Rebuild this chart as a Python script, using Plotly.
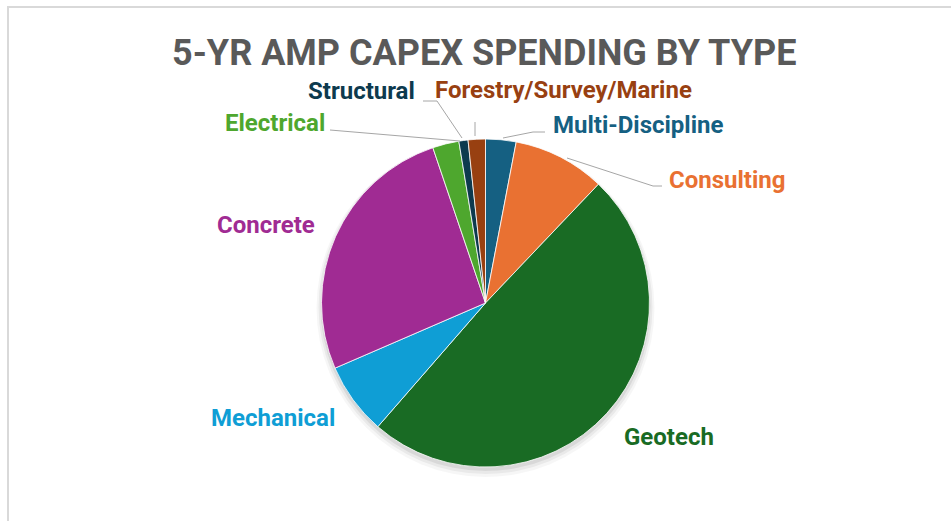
import plotly.graph_objects as go

W, H = 951, 521

# ---- data (clockwise from 12 o'clock) ----
categories = ["Multi-Discipline", "Consulting", "Geotech", "Mechanical",
              "Concrete", "Electrical", "Structural", "Forestry/Survey/Marine"]
values = [3.0, 9.1, 49.3, 7.1, 26.3, 2.6, 0.9, 1.7]
colors = ["#156082", "#E97132", "#196B24", "#0F9ED5",
          "#A02B93", "#4EA72E", "#0D3A4E", "#984011"]

title_text = "5-YR AMP CAPEX SPENDING BY TYPE"

# ---- layout helpers (pixel -> paper) ----
def px(x):
    return x / W

def py(y):
    return 1 - y / H

cx, cy, r = 485.5, 303, 164

fig = go.Figure(go.Pie(
    labels=categories,
    values=values,
    sort=False,
    direction="clockwise",
    rotation=0,
    marker=dict(colors=colors, line=dict(color="white", width=0.8)),
    textinfo="none",
    hoverinfo="label+percent",
    showlegend=False,
    domain=dict(x=[px(cx - r), px(cx + r)], y=[py(cy + r), py(cy - r)]),
))

# label placement (pixel positions, anchor)
label_pos = {
    "Multi-Discipline": (551, 125, "left"),
    "Consulting": (667, 180, "left"),
    "Geotech": (622, 437, "left"),
    "Mechanical": (337, 418, "right"),
    "Concrete": (317, 225, "right"),
    "Electrical": (327, 123, "right"),
    "Structural": (417, 91, "right"),
    "Forestry/Survey/Marine": (433, 90, "left"),
}

annotations = [dict(
    text="<b>" + title_text + "</b>", x=px(484), y=py(53), xref="paper", yref="paper",
    xanchor="center", yanchor="middle", showarrow=False,
    font=dict(family="Roboto", size=36, color="#595959"),
)]
for cat, col in zip(categories, colors):
    x, y, anc = label_pos[cat]
    annotations.append(dict(
        text="<b>" + cat + "</b>", x=px(x), y=py(y), xref="paper", yref="paper",
        xanchor=anc, yanchor="middle", showarrow=False,
        font=dict(family="Roboto", size=24, color=col),
    ))

leader_paths = [
    [(330, 130), (460, 141)],
    [(423, 101), (437, 101), (462, 138)],
    [(475, 122), (475, 136)],
    [(545, 132), (533, 132), (503, 138)],
    [(567, 158), (653, 186), (662, 186)],
]
shapes = []
# soft shadow under the pie
for dr, dy, op in [(5, 5, 0.035), (3, 4, 0.05), (1, 3, 0.07)]:
    shapes.append(dict(type="circle", xref="paper", yref="paper", layer="below",
                       x0=px(cx - r - dr), x1=px(cx + r + dr),
                       y0=py(cy + dy + r + dr), y1=py(cy + dy - r - dr),
                       fillcolor=f"rgba(0,0,0,{op})", line=dict(width=0)))
for pts in leader_paths:
    path = "M " + " L ".join(f"{px(a)},{py(b)}" for a, b in pts)
    shapes.append(dict(type="path", path=path, xref="paper", yref="paper",
                       line=dict(color="#a6a6a6", width=1)))

# frame
shapes.append(dict(type="path",
                   path=f"M {px(8)},{py(H + 5)} L {px(8)},{py(7)} L {px(W + 5)},{py(7)}",
                   xref="paper", yref="paper", line=dict(color="#d9d9d9", width=2)))

fig.update_layout(
    width=W, height=H,
    margin=dict(l=0, r=0, t=0, b=0),
    paper_bgcolor="white", plot_bgcolor="white",
    annotations=annotations, shapes=shapes,
)

fig.write_html("out.html")
